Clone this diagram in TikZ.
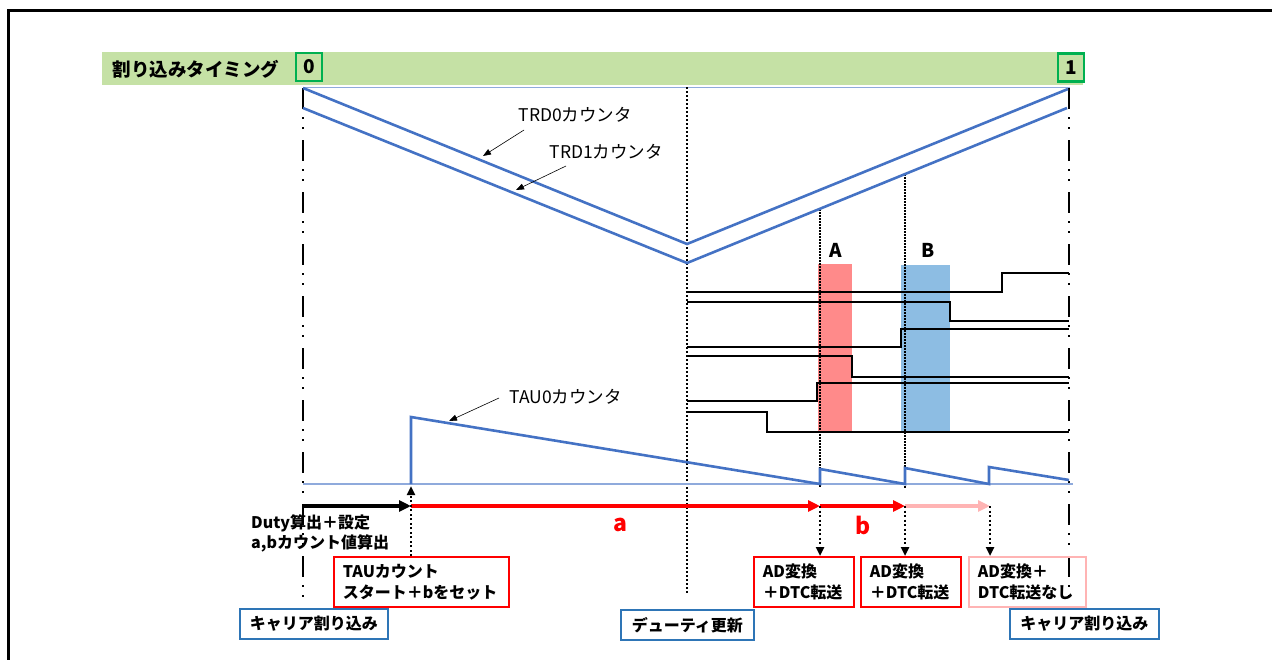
\documentclass[tikz,border=0pt]{standalone}
\usepackage{fontspec}
\setmainfont{Noto Sans CJK JP}
\usetikzlibrary{arrows.meta}
\definecolor{barGreen}{RGB}{197,225,165}
\definecolor{boxGreen}{RGB}{0,176,80}
\definecolor{waveBlue}{RGB}{68,114,196}
\definecolor{baseBlue}{RGB}{143,170,220}
\definecolor{pinkArrow}{RGB}{255,180,180}
\definecolor{fillA}{RGB}{255,138,138}
\definecolor{fillB}{RGB}{141,189,227}
\definecolor{boxBlue}{RGB}{46,117,182}
\tikzset{
  wave/.style={draw=waveBlue, line width=2.6pt},
  sq/.style={draw=black, line width=1.8pt},
  dashdotline/.style={draw=black, line width=2.6pt, dash pattern=on 21pt off 8pt on 2pt off 8pt on 2pt off 11pt},
  densedot/.style={draw=black, line width=2.6pt, dash pattern=on 2pt off 2pt},
  thindot/.style={draw=black, line width=1.4pt, dash pattern=on 1.5pt off 1.5pt},
  dotarrow/.style={draw=black, line width=2.4pt, dash pattern=on 2pt off 2.5pt, -{Triangle[length=9pt,width=8pt]}},
  labarrow/.style={draw=black, line width=0.6pt, -{Triangle[length=8pt,width=6pt]}},
  fatarrow/.style={line width=3.2pt, -{Triangle[length=12pt,width=11pt]}},
  gbox/.style={draw=boxGreen, line width=2.4pt, minimum width=26pt, minimum height=28pt, inner sep=0pt, font=\bfseries\fontsize{19}{20}\selectfont},
  labtext/.style={font=\fontsize{17.5}{20}\selectfont},
  txtbox/.style={line width=1.8pt, anchor=north west, minimum height=50pt, inner xsep=9pt, inner ysep=0pt, align=left, font=\bfseries\fontsize{16}{21}\selectfont},
  bluebox/.style={draw=boxBlue, line width=1.8pt, anchor=north west, minimum height=30pt, inner xsep=0pt, inner ysep=0pt, font=\bfseries\fontsize{16}{18}\selectfont},
}
\begin{document}
\begin{tikzpicture}[x=1pt,y=-1pt]
\useasboundingbox (0,0) rectangle (1272,659);
% frame
\draw[line width=3pt] (8,670) -- (8,10) -- (1280,10);
% green timing bar
\fill[barGreen] (102,52) rectangle (1083,85);
\node[anchor=west, font=\bfseries\fontsize{18.5}{20}\selectfont] (title) at (109,69) {割り込みタイミング};
\node[gbox] (z0) at (309,67) {0};
\node[gbox] (z1) at (1071,67.5) {1};
% thin top line
\draw[baseBlue, line width=1.2pt] (303,87.5) -- (1070,87.5);
% highlight rectangles
\fill[fillA] (818,264) rectangle (852,432);
\fill[fillB] (901,265) rectangle (950,432);
\node[font=\bfseries\fontsize{19}{20}\selectfont] (lA) at (836,250) {A};
\node[font=\bfseries\fontsize{19}{20}\selectfont] (lB) at (928,250) {B};
% vertical reference lines
\draw[dashdotline] (303,88) -- (303,600);
\draw[dashdotline] (1069,88) -- (1069,606);
\draw[densedot] (687,87) -- (687,593);
\draw[thindot] (820,209) -- (820,488);
\draw[thindot] (905,174) -- (905,488);
% TRD counters
\draw[wave] (303,88) -- (687,244) -- (1068,89);
\draw[wave] (303,108) -- (687,263) -- (1067,108);
\node[labtext, anchor=west] (trd0) at (515,115) {TRD0カウンタ};
\node[labtext, anchor=west] (trd1) at (546,152) {TRD1カウンタ};
\coordinate (trd0s) at (524,130);
\coordinate (trd0e) at (483,156);
\coordinate (trd1s) at (566,166);
\coordinate (trd1e) at (516,190);
\draw[labarrow] (trd0s) -- (trd0e);
\draw[labarrow] (trd1s) -- (trd1e);
% square signals
\draw[sq] (687,292) -- (1002,292) -- (1002,273) -- (1069,273);
\draw[sq] (687,302) -- (950,302) -- (950,321) -- (1069,321);
\draw[sq] (687,347) -- (901,347) -- (901,329) -- (1069,329);
\draw[sq] (687,356) -- (852,356) -- (852,377) -- (1069,377);
\draw[sq] (687,401) -- (817,401) -- (817,383) -- (1069,383);
\draw[sq] (687,412) -- (767,412) -- (767,432) -- (1069,432);
% TAU0 counter
\draw[baseBlue, line width=1.2pt] (303,484) -- (1073,484);
\draw[wave] (411,484) -- (411,417) -- (820,484) -- (820,469) -- (905,484) -- (905,468) -- (989,484) -- (989,467) -- (1069,480);
\node[labtext, anchor=west] (tau0) at (506,397) {TAU0カウンタ};
\coordinate (tau0s) at (499,398);
\coordinate (tau0e) at (449,421);
\draw[labarrow] (tau0s) -- (tau0e);
% timeline arrows
\coordinate (p0) at (303,506);
\coordinate (p1) at (411,506);
\coordinate (p2) at (820,506);
\coordinate (p3) at (905,506);
\coordinate (p4) at (990,506);
\draw[fatarrow, black] (p0) -- (p1);
\draw[fatarrow, red] (p1) -- (p2);
\draw[fatarrow, red] (p2) -- (p3);
\draw[fatarrow, pinkArrow] (p3) -- (p4);
\node[text=red, font=\bfseries\fontsize{23}{24}\selectfont] (la) at (620,525) {a};
\node[text=red, font=\bfseries\fontsize{23}{24}\selectfont] (lb) at (863,525) {b};
\node[anchor=north west, inner sep=0pt, align=left, font=\bfseries\fontsize{16}{20}\selectfont] (duty) at (251,514) {Duty算出＋設定\\a,bカウント値算出};
% boxes
\node[txtbox, draw=red, minimum width=175pt, text width=157pt] (tau) at (333,556) {TAUカウント\\スタート＋bをセット};
\node[txtbox, draw=red, minimum width=100pt, text width=82pt] (ad1) at (753,556) {AD変換\\＋DTC転送};
\node[txtbox, draw=red, minimum width=100pt, text width=82pt] (ad2) at (860,556) {AD変換\\＋DTC転送};
\node[txtbox, draw=pinkArrow, minimum width=117pt, text width=99pt] (ad3) at (968,556) {AD変換＋\\DTC転送なし};
\node[bluebox, minimum width=148pt] (car0) at (239,608) {キャリア割り込み};
\node[bluebox, minimum width=133pt] (duty2) at (620,609) {デューティ更新};
\node[bluebox, minimum width=149pt] (car1) at (1009,608) {キャリア割り込み};
% dotted event arrows
\coordinate (u1) at (411,486);
\draw[dotarrow] (tau.north west -| u1) -- (u1);
\draw[dotarrow] (p2) -- (ad1.north -| p2);
\draw[dotarrow] (p3) -- (ad2.north -| p3);
\draw[dotarrow] (p4) -- (ad3.north -| p4);
\end{tikzpicture}
\end{document}
